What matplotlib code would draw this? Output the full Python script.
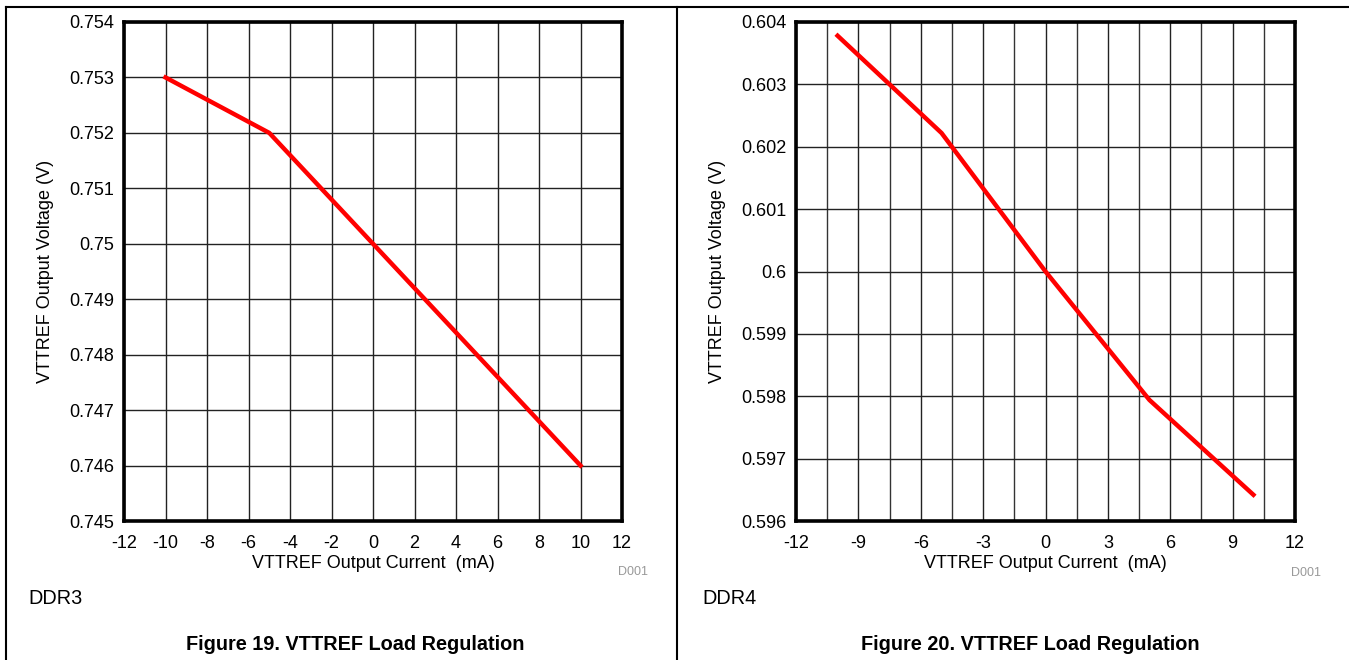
import matplotlib
matplotlib.use("Agg")
import matplotlib.pyplot as plt
from matplotlib.lines import Line2D

plt.rcParams['font.family'] = ['Liberation Sans', 'DejaVu Sans']

# ---- data ----
ddr3_current = [-10, -5, 10]
ddr3_voltage = [0.753, 0.752, 0.746]
ddr3_xticks = [-12, -10, -8, -6, -4, -2, 0, 2, 4, 6, 8, 10, 12]
ddr3_yticks = [0.745, 0.746, 0.747, 0.748, 0.749, 0.750, 0.751, 0.752, 0.753, 0.754]
ddr3_ylabels = ["0.745", "0.746", "0.747", "0.748", "0.749", "0.75", "0.751", "0.752", "0.753", "0.754"]

ddr4_current = [-10, -5, 0, 5, 10]
ddr4_voltage = [0.60378, 0.60222, 0.6000, 0.59794, 0.59642]
ddr4_xticks = [-12, -9, -6, -3, 0, 3, 6, 9, 12]
ddr4_xgrid = [-10.5, -7.5, -4.5, -1.5, 1.5, 4.5, 7.5, 10.5]
ddr4_yticks = [0.596, 0.597, 0.598, 0.599, 0.600, 0.601, 0.602, 0.603, 0.604]
ddr4_ylabels = ["0.596", "0.597", "0.598", "0.599", "0.6", "0.601", "0.602", "0.603", "0.604"]

xlabel = "VTTREF Output Current  (mA)"
ylabel = "VTTREF Output Voltage (V)"
panel_names = ["DDR3", "DDR4"]
captions = ["Figure 19. VTTREF Load Regulation", "Figure 20. VTTREF Load Regulation"]

W, H = 1349, 660
fig = plt.figure(figsize=(W / 100, H / 100), dpi=100)
FS = 13


def px_axes(l, t, r, b):
    return fig.add_axes([l / W, 1 - b / H, (r - l) / W, (b - t) / H])


def style(ax, xt, yt, ylabs, xminor=None):
    ax.set_xlim(xt[0], xt[-1])
    ax.set_ylim(yt[0], yt[-1])
    ax.set_xticks(xt)
    ax.set_xticklabels([str(v) for v in xt])
    ax.set_yticks(yt)
    ax.set_yticklabels(ylabs)
    if xminor is not None:
        ax.set_xticks(xminor, minor=True)
        ax.grid(True, which='minor', axis='x', color='#333333', lw=1.0)
    ax.grid(True, which='major', color='#222222', lw=1.0)
    ax.tick_params(which='both', length=0, labelsize=FS)
    ax.tick_params(axis='x', pad=10)
    ax.tick_params(axis='y', pad=7)
    for s in ax.spines.values():
        s.set_linewidth(2.6)
        s.set_color('black')
        s.set_zorder(5)
    ax.set_axisbelow(True)


ax1 = px_axes(124, 22, 622, 521)
style(ax1, ddr3_xticks, ddr3_yticks, ddr3_ylabels)
ax1.plot(ddr3_current, ddr3_voltage, color='#ff0000', lw=3.2, zorder=3)

ax2 = px_axes(796, 22, 1295, 521)
style(ax2, ddr4_xticks, ddr4_yticks, ddr4_ylabels, xminor=ddr4_xgrid)
ax2.plot(ddr4_current, ddr4_voltage, color='#ff0000', lw=3.2, zorder=3)

for ax in (ax1, ax2):
    ax.set_xlabel(xlabel, fontsize=FS, labelpad=2)

fig.text(45 / W, 1 - 271 / H, ylabel, rotation=90, ha='center', va='center', fontsize=FS)
fig.text(718 / W, 1 - 271 / H, ylabel, rotation=90, ha='center', va='center', fontsize=FS)

fig.text(648 / W, 1 - 572 / H, "D001", ha='right', va='center', fontsize=9, color='#999999')
fig.text(1321 / W, 1 - 573 / H, "D001", ha='right', va='center', fontsize=9, color='#999999')

fig.text(28 / W, 1 - 598 / H, panel_names[0], ha='left', va='center', fontsize=14.3)
fig.text(702 / W, 1 - 598 / H, panel_names[1], ha='left', va='center', fontsize=14.3)

fig.text(355 / W, 1 - 645 / H, captions[0], ha='center', va='center', fontsize=14.3, fontweight='bold')
fig.text(1030 / W, 1 - 645 / H, captions[1], ha='center', va='center', fontsize=14.3, fontweight='bold')

# outer frame lines
fig.add_artist(Line2D([6 / W, 1], [1 - 7 / H, 1 - 7 / H], color='black', lw=1.5, transform=fig.transFigure))
fig.add_artist(Line2D([6 / W, 6 / W], [0, 1 - 7 / H], color='black', lw=1.5, transform=fig.transFigure))
fig.add_artist(Line2D([677 / W, 677 / W], [0, 1 - 7 / H], color='black', lw=1.5, transform=fig.transFigure))

fig.savefig("out.png", dpi=100)
